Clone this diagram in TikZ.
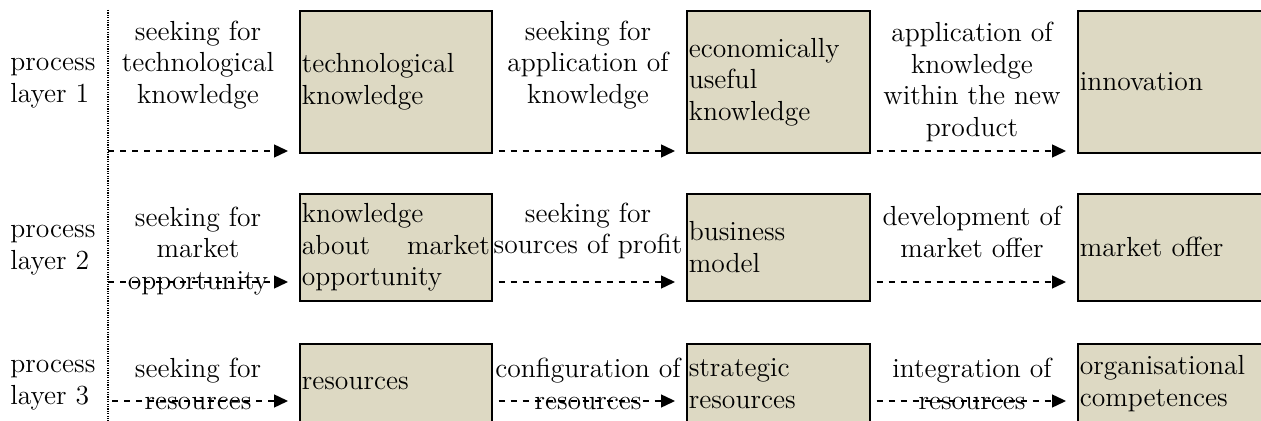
\documentclass[tikz,border=0pt]{standalone}
\usepackage{tikz}
\usetikzlibrary{arrows.meta}
\definecolor{tanbox}{HTML}{DDD9C3}

\begin{document}
\begin{tikzpicture}[x=0.5pt,y=-0.5pt,
   font=\fontsize{13.8pt}{15.75pt}\selectfont,
   box/.style={draw,line width=0.8pt,fill=tanbox,anchor=north west,align=left,inner xsep=1pt,inner ysep=0pt},
   lbl/.style={align=center,inner sep=0pt},
   proc/.style={anchor=west,align=left,inner sep=0pt},
   flow/.style={dashed,line width=0.7pt,-{Triangle[length=7pt,width=6.5pt]},shorten >=5.5pt}]
   \useasboundingbox (0,0) rectangle (1261,421);
   \coordinate (top) at (108,10);
   \coordinate (bot) at (108,430);
   \draw[dash pattern=on 0.6pt off 0.6pt,line width=0.6pt] (top) -- (bot);
   \node[proc] (p1) at (10,83) {process\\layer 1};
   \node[proc] (p2) at (10,250) {process\\layer 2};
   \node[proc] (p3) at (10,385) {process\\layer 3};
   \node[box,text width=94pt,minimum height=71pt] (tk) at (299,10) {technological\\knowledge};
   \node[box,text width=89.5pt,minimum height=71pt] (euk) at (686,10) {economically\\useful\\knowledge};
   \node[box,text width=110pt,minimum height=71pt] (inn) at (1077,10) {innovation};
   \node[box,text width=94pt,minimum height=53.5pt] (kmo) at (299,193) {knowledge\\about\hfill market\\opportunity};
   \node[box,text width=89.5pt,minimum height=53.5pt] (bm) at (686,193) {business\\model};
   \node[box,text width=110pt,minimum height=53.5pt] (mo) at (1077,193) {market offer};
   \node[box,text width=94pt,minimum height=40pt] (res) at (299,343) {resources};
   \node[box,text width=89.5pt,minimum height=40pt] (sres) at (686,343) {strategic\\resources};
   \node[box,text width=110pt,minimum height=40pt] (oc) at (1077,343) {organisational\\competences};
   \node[lbl] (l11) at (198,65) {seeking for\\technological\\knowledge};
   \node[lbl] (l12) at (588,65) {seeking for\\application of\\knowledge};
   \node[lbl] (l13) at (972,82) {application of\\knowledge\\within the new\\product};
   \node[lbl] (l21) at (198,251) {seeking for\\market\\opportunity};
   \node[lbl] (l22) at (588,231) {seeking for\\sources of profit};
   \node[lbl] (l23) at (972,232) {development of\\market offer};
   \node[lbl] (l31) at (198,384) {seeking for\\resources};
   \node[lbl] (l32) at (588,384) {configuration of\\resources};
   \node[lbl] (l33) at (972,384) {integration of\\resources};
   \coordinate (s1) at (108,151);
   \coordinate (s2) at (108,282);
   \coordinate (s3) at (108,401);
   \draw[flow] (s1) -- (s1 -| tk.west);
   \draw[flow,shorten <=3pt] (s1 -| tk.east) -- (s1 -| euk.west);
   \draw[flow,shorten <=3pt] (s1 -| euk.east) -- (s1 -| inn.west);
   \draw[flow] (s2) -- (s2 -| kmo.west);
   \draw[flow,shorten <=3pt] (s2 -| kmo.east) -- (s2 -| bm.west);
   \draw[flow,shorten <=3pt] (s2 -| bm.east) -- (s2 -| mo.west);
   \draw[flow,shorten <=2pt] (s3) -- (s3 -| res.west);
   \draw[flow,shorten <=3pt] (s3 -| res.east) -- (s3 -| sres.west);
   \draw[flow,shorten <=3pt] (s3 -| sres.east) -- (s3 -| oc.west);
\end{tikzpicture}
\end{document}
